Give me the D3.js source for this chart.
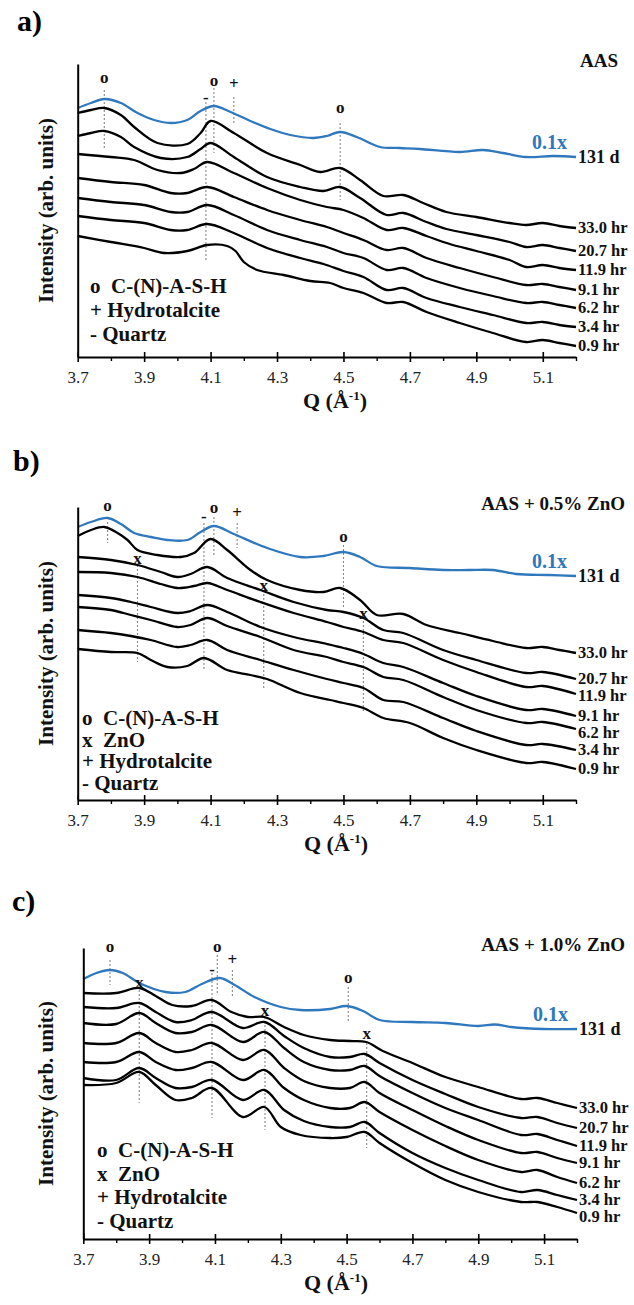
<!DOCTYPE html>
<html><head><meta charset="utf-8">
<script src="https://cdn.jsdelivr.net/npm/d3@7"></script>
<style>
body{margin:0;background:#fff}
svg{display:block}
text{font-family:"Liberation Serif","Times New Roman",serif}
</style>
</head><body>
<svg id="chart" width="634" height="1305"></svg>
<script>
// ---------- shared labels ----------
const Q_TICKS = [3.7, 3.9, 4.1, 4.3, 4.5, 4.7, 4.9, 5.1];
const Q_MINOR = [3.8, 4.0, 4.2, 4.4, 4.6, 4.8, 5.0, 5.2];
const SERIES_LABELS = ["33.0 hr", "20.7 hr", "11.9 hr", "9.1 hr", "6.2 hr", "3.4 hr", "0.9 hr"];
const REF_LABEL = "131 d";
const REF_SCALE = "0.1x";
const LEGEND_AAS = ["o  C-(N)-A-S-H", "+ Hydrotalcite", "- Quartz"];
const LEGEND_ZNO = ["o  C-(N)-A-S-H", "x  ZnO", "+ Hydrotalcite", "- Quartz"];

// ---------- panel a: AAS  [Q, intensity] ----------
const aas_131d = [[3.70,24.9],[3.74,25.4],[3.78,25.8],[3.83,25.4],[3.88,24.4],[3.93,23.7],[3.98,23.4],[4.03,23.7],[4.07,24.6],[4.11,25.1],[4.16,24.5],[4.22,23.6],[4.28,22.8],[4.34,22.2],[4.41,21.9],[4.45,22.1],[4.49,22.5],[4.54,22.0],[4.61,21.0],[4.67,20.9],[4.73,20.8],[4.85,20.5],[4.92,20.7],[4.98,20.4],[5.05,20.0],[5.13,20.1],[5.20,20.0]];
const aas_33_0 = [[3.70,24.4],[3.74,24.7],[3.78,24.9],[3.83,24.2],[3.87,23.0],[3.94,21.4],[4.03,21.3],[4.07,22.4],[4.10,23.6],[4.17,22.4],[4.27,20.4],[4.37,19.2],[4.43,18.5],[4.49,18.9],[4.55,17.7],[4.62,16.1],[4.68,16.2],[4.74,15.4],[4.81,14.5],[4.90,14.0],[5.00,13.4],[5.05,13.2],[5.10,13.4],[5.15,13.1],[5.20,12.9]];
const aas_20_7 = [[3.70,22.1],[3.74,22.4],[3.78,22.6],[3.83,22.0],[3.87,21.0],[3.95,19.9],[4.03,20.0],[4.07,20.8],[4.10,21.4],[4.17,20.0],[4.27,18.0],[4.37,17.0],[4.44,16.6],[4.49,17.0],[4.55,15.9],[4.63,14.2],[4.68,14.4],[4.75,13.5],[4.81,12.8],[4.90,12.2],[5.00,11.5],[5.05,11.0],[5.10,11.2],[5.15,10.9],[5.20,10.6]];
const aas_11_9 = [[3.70,20.3],[3.80,20.0],[3.87,19.7],[3.94,18.7],[4.01,18.4],[4.05,18.8],[4.09,19.5],[4.17,18.4],[4.27,16.9],[4.37,15.7],[4.45,15.0],[4.50,14.7],[4.56,13.9],[4.63,12.7],[4.68,12.9],[4.75,12.1],[4.82,11.3],[4.90,10.6],[5.00,9.7],[5.05,9.0],[5.10,9.2],[5.15,8.9],[5.20,8.7]];
const aas_9_1 = [[3.70,17.9],[3.80,17.5],[3.90,17.2],[3.98,16.4],[4.03,16.4],[4.09,17.0],[4.17,16.0],[4.27,14.7],[4.37,13.7],[4.45,13.0],[4.50,12.4],[4.56,11.7],[4.63,10.7],[4.68,10.9],[4.75,9.9],[4.85,8.9],[4.95,8.0],[5.05,7.2],[5.10,7.3],[5.15,7.0],[5.20,6.7]];
const aas_6_2 = [[3.70,15.9],[3.80,15.5],[3.90,15.2],[3.98,14.5],[4.03,14.5],[4.09,15.2],[4.17,14.2],[4.27,12.7],[4.37,11.7],[4.45,11.0],[4.50,10.4],[4.56,9.9],[4.63,8.7],[4.68,8.9],[4.75,7.9],[4.85,6.9],[4.95,6.1],[5.05,5.4],[5.10,5.5],[5.15,5.2],[5.20,4.9]];
const aas_3_4 = [[3.70,14.1],[3.80,13.7],[3.90,13.4],[3.98,12.7],[4.03,12.7],[4.09,13.3],[4.17,12.4],[4.27,10.9],[4.37,9.9],[4.44,9.3],[4.50,8.6],[4.56,8.0],[4.63,6.7],[4.68,6.9],[4.75,5.9],[4.85,5.0],[4.95,4.2],[5.05,3.4],[5.10,3.5],[5.15,3.2],[5.20,3.0]];
const aas_0_9 = [[3.70,12.1],[3.80,11.5],[3.90,10.9],[3.96,10.4],[4.03,10.6],[4.09,11.2],[4.15,11.1],[4.175,10.6],[4.20,9.5],[4.24,8.7],[4.32,8.2],[4.40,7.6],[4.46,7.4],[4.50,6.9],[4.56,6.4],[4.63,5.4],[4.68,5.5],[4.75,4.5],[4.85,3.4],[4.95,2.4],[5.05,1.5],[5.10,1.7],[5.15,1.4],[5.20,1.1]];
// markers: [Q, symbol, label intensity, dotted-line top, dotted-line bottom]
const aas_marks = [[3.78,"o",28.0,26.7,20.7],[4.086,"-",26.0,25.5,9.7],[4.11,"o",27.7,26.9,20.4],[4.17,"+",27.4,26.0,23.2],[4.49,"o",25.0,23.4,15.7]];

// ---------- panel b: AAS + 0.5% ZnO ----------
const zno05_131d = [[3.70,27.3],[3.74,27.8],[3.79,28.2],[3.83,27.6],[3.87,26.7],[3.92,26.3],[3.97,26.0],[4.03,26.0],[4.07,26.8],[4.11,27.4],[4.17,26.6],[4.27,25.2],[4.37,24.3],[4.44,24.4],[4.50,24.8],[4.55,24.3],[4.60,23.4],[4.70,23.2],[4.80,23.0],[4.88,23.0],[4.95,23.0],[5.02,22.6],[5.12,22.5],[5.20,22.4]];
const zno05_33_0 = [[3.70,26.4],[3.74,27.0],[3.78,27.3],[3.82,26.7],[3.85,26.0],[3.88,25.0],[3.94,24.5],[4.01,24.3],[4.05,24.7],[4.10,26.1],[4.15,25.0],[4.22,23.0],[4.27,22.0],[4.37,21.0],[4.44,20.8],[4.49,21.2],[4.55,20.0],[4.60,18.5],[4.68,18.6],[4.75,17.5],[4.85,16.7],[4.95,15.9],[5.05,15.2],[5.10,15.3],[5.15,15.0],[5.20,14.7]];
const zno05_20_7 = [[3.70,24.3],[3.80,24.0],[3.88,23.5],[3.95,22.8],[4.00,22.3],[4.04,22.6],[4.09,23.3],[4.15,22.2],[4.25,21.0],[4.35,19.8],[4.45,19.0],[4.50,18.8],[4.56,18.2],[4.62,17.0],[4.68,16.7],[4.80,15.0],[4.90,14.0],[5.05,12.7],[5.10,12.8],[5.20,12.1]];
const zno05_11_9 = [[3.70,22.8],[3.80,22.7],[3.88,22.3],[3.95,21.6],[4.00,21.2],[4.05,21.4],[4.09,21.7],[4.15,21.0],[4.25,19.8],[4.35,18.7],[4.45,17.8],[4.50,17.3],[4.56,16.8],[4.62,16.0],[4.68,15.7],[4.80,14.0],[4.90,12.8],[5.05,11.3],[5.10,11.4],[5.20,10.6]];
const zno05_9_1 = [[3.70,20.5],[3.80,20.2],[3.86,19.8],[3.92,19.3],[4.00,18.7],[4.04,18.9],[4.09,19.5],[4.15,18.8],[4.25,17.3],[4.35,16.3],[4.45,15.6],[4.50,15.2],[4.56,14.6],[4.62,13.7],[4.68,13.3],[4.80,11.7],[4.90,10.4],[5.05,9.0],[5.10,9.1],[5.20,8.4]];
const zno05_6_2 = [[3.70,19.3],[3.80,19.0],[3.86,18.5],[3.92,18.0],[4.00,17.3],[4.04,17.5],[4.09,18.2],[4.15,17.4],[4.25,16.3],[4.35,15.0],[4.45,14.3],[4.50,13.8],[4.56,13.3],[4.62,12.3],[4.68,12.0],[4.80,10.3],[4.90,9.0],[5.05,7.7],[5.10,7.8],[5.20,7.1]];
const zno05_3_4 = [[3.70,17.0],[3.80,16.7],[3.86,16.4],[3.92,16.0],[4.00,15.3],[4.04,15.5],[4.09,16.0],[4.15,15.0],[4.25,14.0],[4.35,13.0],[4.45,12.1],[4.50,11.7],[4.56,11.2],[4.62,10.0],[4.68,9.8],[4.80,8.2],[4.90,6.9],[5.05,5.5],[5.10,5.6],[5.20,5.0]];
const zno05_0_9 = [[3.70,15.1],[3.80,14.8],[3.88,14.7],[3.92,14.0],[3.97,13.3],[4.03,13.4],[4.08,14.2],[4.15,13.0],[4.22,12.5],[4.27,12.1],[4.37,10.7],[4.46,10.0],[4.50,9.7],[4.56,9.2],[4.62,8.2],[4.70,7.7],[4.80,6.2],[4.90,5.0],[5.05,3.7],[5.10,3.8],[5.20,3.1]];
const zno05_marks = [[3.79,"o",29.5,27.8,25.7],[3.88,"x",24.2,23.5,13.8],[4.08,"-",28.4,27.7,13.0],[4.11,"o",29.3,28.3,24.5],[4.18,"+",28.8,27.7,25.2],[4.26,"x",21.5,21.0,11.2],[4.50,"o",26.4,25.5,19.3],[4.56,"x",18.7,18.3,8.7]];

// ---------- panel c: AAS + 1.0% ZnO ----------
const zno10_131d = [[3.70,26.0],[3.74,26.6],[3.78,26.9],[3.82,26.6],[3.87,25.6],[3.95,24.7],[4.01,24.7],[4.06,25.5],[4.115,26.1],[4.16,25.4],[4.22,24.2],[4.30,23.2],[4.36,22.9],[4.45,23.0],[4.50,23.3],[4.55,22.8],[4.60,21.9],[4.70,21.7],[4.80,21.6],[4.90,21.3],[4.95,21.45],[5.00,21.2],[5.10,21.0],[5.20,21.0]];
const zno10_33_0 = [[3.70,24.6],[3.80,24.6],[3.87,25.1],[3.92,24.3],[3.97,23.4],[4.03,23.3],[4.09,23.9],[4.15,22.7],[4.20,22.2],[4.25,22.2],[4.31,21.2],[4.37,20.4],[4.45,19.9],[4.51,19.8],[4.56,19.7],[4.61,18.8],[4.70,17.6],[4.80,16.2],[4.90,15.2],[5.03,14.0],[5.08,14.1],[5.14,13.6],[5.20,13.1]];
const zno10_20_7 = [[3.70,23.2],[3.80,23.1],[3.87,23.6],[3.92,22.7],[3.98,21.7],[4.03,21.9],[4.09,22.7],[4.185,21.1],[4.25,21.7],[4.31,20.3],[4.37,19.1],[4.45,18.2],[4.51,18.2],[4.555,18.5],[4.60,17.6],[4.70,15.9],[4.80,14.5],[4.90,13.2],[5.03,12.1],[5.08,12.2],[5.14,11.6],[5.20,11.1]];
const zno10_11_9 = [[3.70,21.6],[3.80,21.5],[3.87,22.6],[3.92,21.6],[3.98,20.6],[4.03,20.7],[4.09,21.4],[4.185,19.7],[4.25,20.7],[4.31,19.1],[4.37,17.7],[4.45,16.9],[4.51,16.9],[4.555,17.3],[4.60,16.3],[4.70,14.6],[4.80,13.1],[4.90,11.9],[5.03,10.4],[5.08,10.5],[5.14,9.9],[5.20,9.3]];
const zno10_9_1 = [[3.70,19.6],[3.80,19.6],[3.87,20.6],[3.92,19.6],[3.98,18.7],[4.03,18.9],[4.09,19.6],[4.185,17.9],[4.25,18.9],[4.31,17.1],[4.37,15.8],[4.45,15.1],[4.51,15.1],[4.555,15.7],[4.60,14.6],[4.70,12.9],[4.80,11.3],[4.90,9.9],[5.03,8.6],[5.08,8.7],[5.14,8.1],[5.20,7.6]];
const zno10_6_2 = [[3.70,17.7],[3.80,17.7],[3.87,18.7],[3.92,17.7],[3.98,16.9],[4.03,17.1],[4.09,17.7],[4.185,15.9],[4.25,16.9],[4.31,15.1],[4.37,13.9],[4.45,13.1],[4.51,13.1],[4.555,13.7],[4.60,12.7],[4.70,10.9],[4.80,9.3],[4.90,7.9],[5.03,6.7],[5.08,6.9],[5.14,6.2],[5.20,5.6]];
const zno10_3_4 = [[3.70,16.1],[3.80,15.9],[3.87,17.1],[3.92,16.1],[3.98,15.1],[4.03,15.2],[4.09,15.9],[4.185,13.9],[4.25,14.9],[4.31,12.9],[4.37,11.8],[4.45,11.2],[4.51,11.2],[4.555,11.7],[4.60,10.6],[4.70,8.6],[4.80,7.1],[4.90,5.9],[5.03,4.7],[5.08,4.9],[5.14,4.4],[5.20,3.9]];
const zno10_0_9 = [[3.70,15.4],[3.80,15.6],[3.87,16.7],[3.92,15.4],[3.98,13.9],[4.03,14.1],[4.09,15.1],[4.185,12.2],[4.25,13.2],[4.30,11.2],[4.36,10.4],[4.45,10.1],[4.50,10.2],[4.555,10.7],[4.60,9.6],[4.70,7.6],[4.80,5.9],[4.90,4.7],[5.03,3.7],[5.08,3.7],[5.14,3.2],[5.20,2.6]];
const zno10_marks = [[3.781,"o",29.3,27.9,25.4],[3.87,"x",25.7,24.9,13.6],[4.091,"-",27.0,26.6,12.1],[4.107,"o",29.3,28.4,24.6],[4.153,"+",28.0,26.9,24.1],[4.252,"x",22.9,22.2,10.9],[4.505,"o",26.2,25.2,21.6],[4.561,"x",20.6,19.6,9.1]];

// ---------- layout ----------
const panels = [
  {tag:"a)", tagX:17, tagY:31, title:"AAS", titleX:618, left:77.7, right:576, axisY:357, yMax:29.3,
   ref:aas_131d, curves:[aas_33_0,aas_20_7,aas_11_9,aas_9_1,aas_6_2,aas_3_4,aas_0_9], marks:aas_marks,
   legend:LEGEND_AAS, legendX:90, legendY:293, legendGap:24, qX:335},
  {tag:"b)", tagX:13, tagY:471, title:"AAS + 0.5% ZnO", titleX:625, left:77.7, right:576, axisY:800, yMax:29.3,
   ref:zno05_131d, curves:[zno05_33_0,zno05_20_7,zno05_11_9,zno05_9_1,zno05_6_2,zno05_3_4,zno05_0_9], marks:zno05_marks,
   legend:LEGEND_ZNO, legendX:82, legendY:725, legendGap:21.5, qX:336},
  {tag:"c)", tagX:12, tagY:911, title:"AAS + 1.0% ZnO", titleX:625, left:83.3, right:577, axisY:1239, yMax:29.1,
   ref:zno10_131d, curves:[zno10_33_0,zno10_20_7,zno10_11_9,zno10_9_1,zno10_6_2,zno10_3_4,zno10_0_9], marks:zno10_marks,
   legend:LEGEND_ZNO, legendX:97, legendY:1157, legendGap:23.5, qX:336}
];

const BLUE = "#2f78bd";
const svg = d3.select("#chart");
svg.append("rect").attr("width",634).attr("height",1305).attr("fill","#fff");

panels.forEach(p => {
  const g = svg.append("g");
  const x = d3.scaleLinear().domain([3.7, 5.2]).range([p.left, p.right]);
  const y = d3.scaleLinear().domain([0, p.yMax]).range([p.axisY, p.axisY - p.yMax * 10]);
  const line = d3.line().x(d => x(d[0])).y(d => y(d[1])).curve(d3.curveCatmullRom.alpha(0.5));

  g.append("text").attr("x", p.tagX).attr("y", p.tagY).attr("font-size", 30).attr("font-weight", "bold").text(p.tag);
  g.append("text").attr("x", p.titleX).attr("y", y(p.yMax) + 2.5).attr("text-anchor", "end")
    .attr("font-size", 19).attr("font-weight", "bold").attr("fill", "#111").text(p.title);

  // dotted marker lines
  g.selectAll(".mk").data(p.marks).enter().append("line")
    .attr("x1", d => x(d[0])).attr("x2", d => x(d[0]))
    .attr("y1", d => y(d[3])).attr("y2", d => y(d[4]))
    .attr("stroke", "#888").attr("stroke-width", 1.1).attr("stroke-dasharray", "2,2");

  // curves
  g.selectAll(".crv").data(p.curves).enter().append("path")
    .attr("d", line).attr("fill", "none").attr("stroke", "#000")
    .attr("stroke-width", 2.3).attr("stroke-linejoin", "round");
  g.append("path").attr("d", line(p.ref)).attr("fill", "none").attr("stroke", BLUE).attr("stroke-width", 2.3);

  // marker symbols
  g.selectAll(".ms").data(p.marks).enter().append("text")
    .attr("x", d => x(d[0])).attr("y", d => y(d[2])).attr("dy", "0.33em")
    .attr("text-anchor", "middle").attr("font-size", 17).attr("font-weight", "bold").attr("fill", "#111")
    .text(d => d[1]);

  // series labels (nudged apart slightly where they crowd)
  const ends = p.curves.map(c => y(c[c.length - 1][1]));
  for (let i = 1; i < ends.length; i++) if (ends[i] - ends[i - 1] < 17) ends[i] = ends[i - 1] + 17;
  g.selectAll(".sl").data(p.curves).enter().append("text")
    .attr("x", x(5.2) + 2).attr("y", (d, i) => ends[i]).attr("dy", "0.33em")
    .attr("font-size", 16.5).attr("font-weight", "bold").attr("fill", "#111")
    .text((d, i) => SERIES_LABELS[i]);
  const refEnd = p.ref[p.ref.length - 1];
  g.append("text").attr("x", x(5.2) + 2).attr("y", y(refEnd[1])).attr("dy", "0.33em")
    .attr("font-size", 18).attr("font-weight", "bold").attr("fill", "#111").text(REF_LABEL);
  g.append("text").attr("x", x(5.2) - 9).attr("y", y(refEnd[1]) - 15).attr("dy", "0.33em")
    .attr("text-anchor", "end").attr("font-size", 20).attr("font-weight", "bold").attr("fill", BLUE).text(REF_SCALE);

  // legend
  g.selectAll(".lg").data(p.legend).enter().append("text")
    .attr("x", p.legendX).attr("y", (d, i) => p.legendY + i * p.legendGap)
    .attr("font-size", 21).attr("font-weight", "bold").attr("fill", "#111")
    .style("white-space", "pre").text(d => d);

  // axes
  const xAxis = g.append("g").attr("transform", `translate(0,${p.axisY})`)
    .call(d3.axisBottom(x).tickValues(Q_TICKS).tickFormat(d3.format(".1f")).tickSizeInner(5).tickSizeOuter(0).tickPadding(9));
  xAxis.select(".domain").attr("stroke-width", 2);
  xAxis.selectAll(".tick line").attr("y1", -5).attr("stroke-width", 1.6);
  xAxis.selectAll(".tick text").attr("font-family", "Liberation Serif, serif").attr("font-size", 17).attr("fill", "#222");
  const minor = g.append("g").attr("transform", `translate(0,${p.axisY})`)
    .call(d3.axisBottom(x).tickValues(Q_MINOR).tickFormat("").tickSizeInner(4).tickSizeOuter(0));
  minor.select(".domain").remove();
  minor.selectAll(".tick line").attr("stroke-width", 1.4);

  const yAxis = g.append("g").attr("transform", `translate(${p.left},0)`)
    .call(d3.axisLeft(y).tickValues([]).tickSizeOuter(0));
  yAxis.select(".domain").attr("stroke-width", 2);

  const qt = g.append("text").attr("x", p.qX).attr("y", p.axisY + 51).attr("text-anchor", "middle")
    .attr("font-size", 22).attr("font-weight", "bold").attr("fill", "#111");
  qt.append("tspan").text("Q (Å");
  qt.append("tspan").attr("dy", -8).attr("font-size", 13).text("-1");
  qt.append("tspan").attr("dy", 8).text(")");

  g.append("text").attr("transform", `translate(53,${(y(0) + y(p.yMax)) / 2}) rotate(-90)`)
    .attr("text-anchor", "middle").attr("font-size", 21).attr("font-weight", "bold").attr("fill", "#111")
    .text("Intensity (arb. units)");
});
</script>
</body></html>
